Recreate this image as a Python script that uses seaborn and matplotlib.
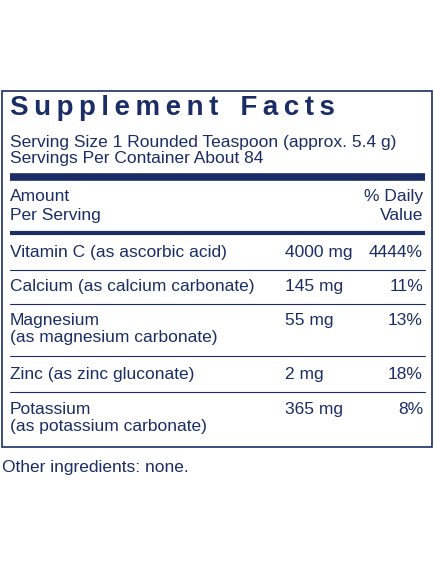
import matplotlib.pyplot as plt
import seaborn as sns

sns.set_style("white")
plt.rcParams['font.family'] = ['Liberation Sans', 'DejaVu Sans']

NAVY = "#1b2d66"

title = "Supplement Facts"
serving_lines = ["Serving Size 1 Rounded Teaspoon (approx. 5.4 g)",
                 "Servings Per Container About 84"]
nutrients = ["Vitamin C (as ascorbic acid)",
             "Calcium (as calcium carbonate)",
             "Magnesium\n(as magnesium carbonate)",
             "Zinc (as zinc gluconate)",
             "Potassium\n(as potassium carbonate)"]
amounts = ["4000 mg", "145 mg", "55 mg", "2 mg", "365 mg"]
daily_values = ["4444%", "11%", "13%", "18%", "8%"]
other = "Other ingredients: none."

fig = plt.figure(figsize=(4.35, 5.69), dpi=100)
ax = fig.add_axes([0, 0, 1, 1])
ax.set_xlim(0, 435)
ax.set_ylim(569, 0)
ax.axis("off")

# outer box
ax.add_patch(plt.Rectangle((2.5, 91), 430, 356, fill=False, edgecolor=NAVY, lw=1.2))

# letter-spaced heavy title
spaced = "\u2009".join(title).replace("\u2009 \u2009", "\u2009\u2009\u2009\u2009")
ax.text(10, 108, spaced, fontsize=20, fontweight="heavy", color=NAVY, va="center",
        family=['Liberation Sans', 'DejaVu Sans'])
ax.text(10, 142, serving_lines[0], fontsize=12.5, color=NAVY, va="center")
ax.text(10, 158, serving_lines[1], fontsize=12.5, color=NAVY, va="center")
ax.plot([10, 425], [177, 177], color=NAVY, lw=5.5, solid_capstyle="butt")

ax.text(10, 196, "Amount", fontsize=12.5, color=NAVY, va="center")
ax.text(10, 215, "Per Serving", fontsize=12.5, color=NAVY, va="center")
ax.text(423, 196, "% Daily", fontsize=12.5, color=NAVY, va="center", ha="right")
ax.text(423, 215, "Value", fontsize=12.5, color=NAVY, va="center", ha="right")
ax.plot([10, 425], [233, 233], color=NAVY, lw=3, solid_capstyle="butt")

row_y = [252, 286, 329, 374, 418]
sep_y = [270, 304, 356, 392]
for y, name, amt, dv in zip(row_y, nutrients, amounts, daily_values):
    ax.text(10, y, name, fontsize=12.5, color=NAVY, va="center", linespacing=1.15)
    ax.text(285, y - (9 if "\n" in name else 0), amt, fontsize=12.5, color=NAVY, va="center")
    ax.text(423, y - (9 if "\n" in name else 0), dv, fontsize=12.5, color=NAVY, va="center", ha="right")
for y in sep_y:
    ax.plot([10, 425], [y, y], color=NAVY, lw=0.8)

ax.text(2, 467, other, fontsize=12.5, color=NAVY, va="center")

fig.savefig("out.png", dpi=100)
